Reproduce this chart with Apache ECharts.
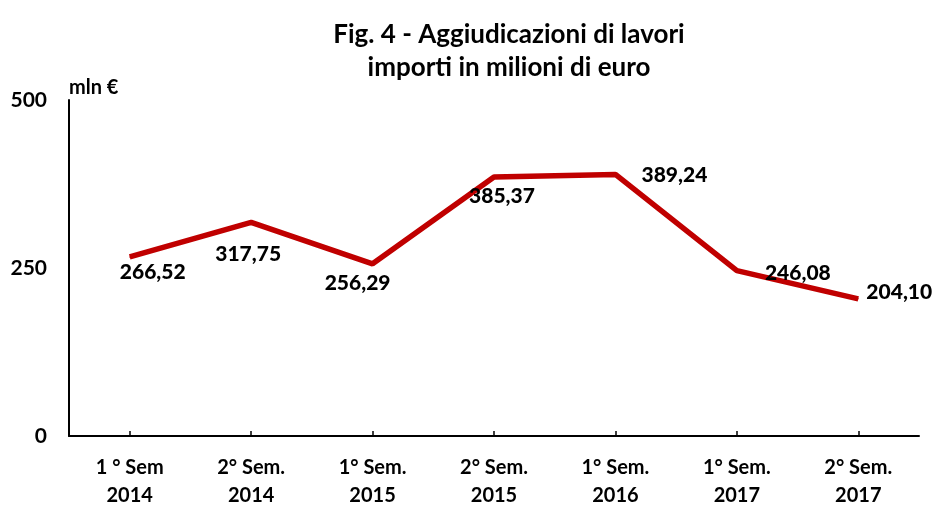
<!DOCTYPE html>
<html>
<head>
    <meta charset="utf-8">
    <title>Aggiudicazioni di lavori</title>
    <script src="https://cdnjs.cloudflare.com/ajax/libs/echarts/6.0.0/echarts.min.js"></script>
    <style>
        html, body { margin: 0; padding: 0; background: #fff; }
        #main { width: 935px; height: 506px; }
    </style>
</head>
<body>
<div id="main"></div>
<script>
    // dati
    let periods = ['1 ° Sem\n2014', '2° Sem.\n2014', '1° Sem.\n2015', '2° Sem.\n2015',
        '1° Sem.\n2016', '1° Sem.\n2017', '2° Sem.\n2017'];
    let amounts = [266.52, 317.75, 256.29, 385.37, 389.24, 246.08, 204.10];
    let yTicks = [0, 250, 500];

    // spostamento etichette rispetto al punto
    let labelShift = [[23, 15], [-3, 32], [-15, 19], [8, 19], [59, 1], [61, 3], [41, -7]];

    let font = 'Lato';
    let myChart = echarts.init(document.getElementById('main'));

    let points = amounts.map(function (v, i) {
        return {
            value: v,
            label: {offset: labelShift[i]}
        };
    });

    myChart.setOption({
        animation: false,
        title: {
            text: 'Fig. 4 - Aggiudicazioni di lavori\nimporti in milioni di euro',
            left: 504,
            top: 13,
            textAlign: 'center',
            textStyle: {
                fontFamily: font,
                fontWeight: 'bold',
                fontSize: 26,
                lineHeight: 33,
                color: '#000'
            }
        },
        grid: {left: 69, right: 16, top: 100, bottom: 70, outerBoundsMode: 'none'},
        xAxis: {
            type: 'category',
            data: periods,
            boundaryGap: true,
            axisLine: {lineStyle: {color: '#000', width: 2}},
            axisTick: {show: true, inside: true, alignWithLabel: true, length: 5,
                lineStyle: {color: '#000', width: 1.5}},
            axisLabel: {
                color: '#000',
                fontFamily: font,
                fontWeight: 'bold',
                fontSize: 20,
                lineHeight: 28,
                margin: 18,
                interval: 0
            }
        },
        yAxis: {
            type: 'value',
            min: yTicks[0],
            max: yTicks[yTicks.length - 1],
            interval: 250,
            name: 'mln €',
            nameLocation: 'end',
            nameGap: 2,
            nameTextStyle: {
                color: '#000',
                fontFamily: font,
                fontWeight: 'bold',
                fontSize: 20,
                align: 'left'
            },
            splitLine: {show: false},
            axisLine: {show: true, lineStyle: {color: '#000', width: 2}},
            axisTick: {show: false},
            axisLabel: {
                color: '#000',
                fontFamily: font,
                fontWeight: 'bold',
                fontSize: 21,
                margin: 22
            }
        },
        series: [{
            type: 'line',
            data: points,
            symbol: 'circle',
            symbolSize: 1,
            itemStyle: {color: '#C00000'},
            lineStyle: {color: '#C00000', width: 5.5},
            label: {
                show: true,
                position: 'inside',
                color: '#000',
                fontFamily: font,
                fontWeight: 900,
                fontSize: 21,
                formatter: function (p) {
                    return p.value.toFixed(2).replace('.', ',');
                }
            }
        }]
    });
</script>
</body>
</html>
